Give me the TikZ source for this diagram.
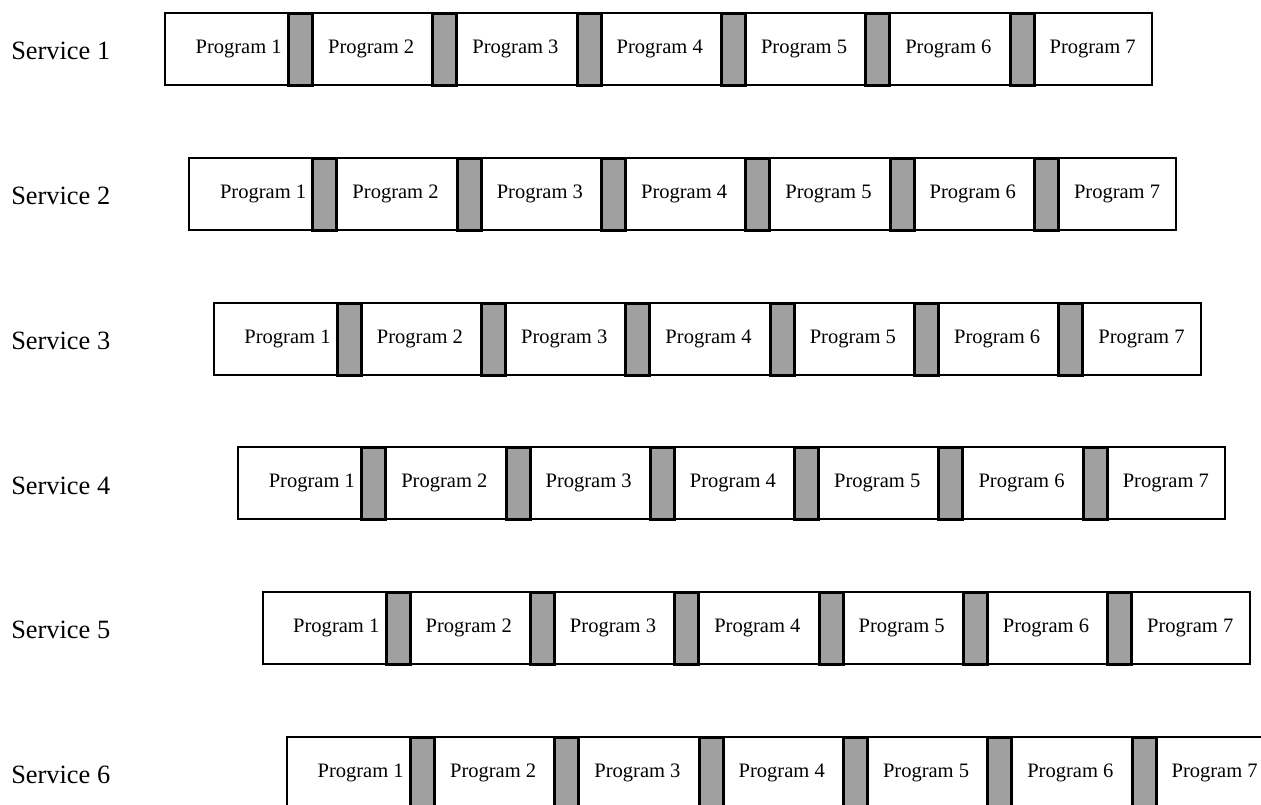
\documentclass[tikz,border=0pt]{standalone}
\usepackage{fontspec}
\setmainfont{Liberation Serif}
\usetikzlibrary{positioning}
\definecolor{barfill}{RGB}{160,160,160}

\begin{document}
\begin{tikzpicture}[
  x=0.75pt, y=-0.75pt,
  rowbox/.style={draw, line width=1.5pt, fill=white, inner sep=0pt,
                 anchor=north west, minimum width=987*0.75pt,
                 minimum height=72*0.75pt},
  gapbar/.style={draw, line width=2.25pt, fill=barfill, inner sep=0pt,
                 anchor=north west, minimum width=24*0.75pt,
                 minimum height=72*0.75pt},
  prog/.style={font=\rmfamily\fontsize{15.4}{18}\selectfont, inner sep=0pt},
  serv/.style={font=\rmfamily\fontsize{19.8}{23}\selectfont, inner sep=0pt, anchor=west}
]
  \useasboundingbox (0,0) rectangle (1261,805);
  \clip (0,0) rectangle (1261,805);
  \foreach \r in {1,...,6} {
    \pgfmathsetmacro{\xo}{164+24.4*(\r-1)}
    \pgfmathsetmacro{\yo}{12+144.8*(\r-1)}
    \node[serv] (serv\r) at (11,\yo+39) {Service \r};
    \node[rowbox] (row\r) at (\xo,\yo) {};
    % gaps between programs
    \foreach \k in {1,...,6}
      \node[gapbar] (gap\r-\k) at ({\xo+123+144.3*(\k-1)},\yo) {};
    \node[prog, anchor=east] (prog\r-1) at (\xo+118,\yo+37) {Program 1};
    \foreach \k in {2,...,7}
      \node[prog] (prog\r-\k) at ({\xo+207.15+144.3*(\k-2)},\yo+37) {Program \k};
  }
\end{tikzpicture}
\end{document}
